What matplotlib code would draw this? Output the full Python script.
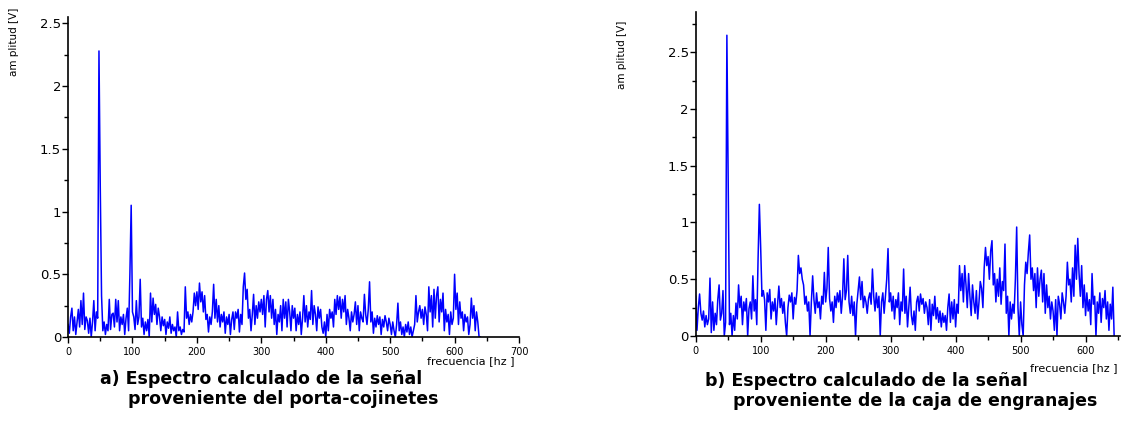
import numpy as np
import matplotlib
matplotlib.use("Agg")
import matplotlib.pyplot as plt
from matplotlib.ticker import MultipleLocator

# amplitude spectra, one value every 2 Hz
step_hz = 2

# a) bearing housing (porta-cojinetes), 0..640 Hz
amp_a = [
    0.10, 0.03, 0.16, 0.23, 0.05,  0.16, 0.02, 0.12, 0.22, 0.08,
    0.29, 0.10, 0.35, 0.06, 0.16,  0.13, 0.03, 0.15, 0.00, 0.12,
    0.29, 0.05, 0.20, 0.15, 2.28,  1.20, 0.33, 0.05, 0.12, 0.02,
    0.10, 0.05, 0.30, 0.06, 0.18,  0.19, 0.08, 0.30, 0.12, 0.29,
    0.05, 0.16, 0.10, 0.18, 0.02,  0.15, 0.23, 0.05, 0.50, 1.05,
    0.20, 0.16, 0.06, 0.29, 0.10,  0.16, 0.46, 0.08, 0.15, 0.02,
    0.12, 0.05, 0.14, 0.00, 0.35,  0.12, 0.31, 0.18, 0.26, 0.10,
    0.23, 0.16, 0.05, 0.16, 0.09,  0.14, 0.02, 0.12, 0.07, 0.16,
    0.03, 0.10, 0.05, 0.08, 0.00,  0.20, 0.05, 0.08, 0.02, 0.06,
    0.04, 0.40, 0.15, 0.20, 0.10,  0.18, 0.12, 0.20, 0.35, 0.25,
    0.36, 0.22, 0.43, 0.28, 0.36,  0.20, 0.33, 0.14, 0.18, 0.04,
    0.16, 0.10, 0.20, 0.42, 0.15,  0.30, 0.12, 0.25, 0.08, 0.18,
    0.12, 0.20, 0.03, 0.16, 0.10,  0.18, 0.02, 0.14, 0.20, 0.06,
    0.20, 0.15, 0.22, 0.04, 0.18,  0.10, 0.40, 0.51, 0.30, 0.38,
    0.15, 0.22, 0.05, 0.18, 0.34,  0.10, 0.25, 0.15, 0.28, 0.20,
    0.30, 0.18, 0.33, 0.08, 0.30,  0.37, 0.20, 0.33, 0.15, 0.30,
    0.10, 0.22, 0.02, 0.18, 0.12,  0.25, 0.05, 0.30, 0.15, 0.28,
    0.08, 0.30, 0.20, 0.05, 0.25,  0.15, 0.23, 0.05, 0.18, 0.10,
    0.20, 0.02, 0.15, 0.33, 0.12,  0.25, 0.08, 0.20, 0.14, 0.37,
    0.10, 0.25, 0.18, 0.05, 0.24,  0.15, 0.22, 0.08, 0.03, 0.12,
    0.00, 0.18, 0.05, 0.22, 0.15,  0.20, 0.08, 0.30, 0.18, 0.33,
    0.22, 0.32, 0.15, 0.30, 0.20,  0.33, 0.10, 0.22, 0.15, 0.05,
    0.20, 0.12, 0.18, 0.28, 0.10,  0.25, 0.05, 0.20, 0.15, 0.12,
    0.34, 0.18, 0.10, 0.22, 0.44,  0.12, 0.20, 0.03, 0.15, 0.08,
    0.17, 0.10, 0.16, 0.02, 0.14,  0.08, 0.17, 0.12, 0.05, 0.15,
    0.10, 0.02, 0.12, 0.05, 0.00,  0.10, 0.27, 0.05, 0.12, 0.02,
    0.08, 0.00, 0.10, 0.04, 0.12,  0.02, 0.08, 0.00, 0.05, 0.10,
    0.33, 0.12, 0.20, 0.25, 0.15,  0.22, 0.10, 0.24, 0.18, 0.05,
    0.40, 0.20, 0.33, 0.08, 0.38,  0.15, 0.33, 0.40, 0.12, 0.30,
    0.20, 0.35, 0.05, 0.22, 0.12,  0.18, 0.02, 0.20, 0.10, 0.15,
    0.50, 0.22, 0.35, 0.10, 0.28,  0.15, 0.20, 0.05, 0.18, 0.12,
    0.16, 0.02, 0.10, 0.31, 0.15,  0.25, 0.05, 0.20, 0.12, 0.00,
    0.00,
]

# b) gearbox (caja de engranajes), 0..644 Hz
amp_b = [
    0.35, 0.05, 0.25, 0.37, 0.20,  0.14, 0.22, 0.08, 0.18, 0.10,
    0.15, 0.51, 0.03, 0.30, 0.05,  0.20, 0.10, 0.32, 0.45, 0.14,
    0.20, 0.40, 0.00, 0.12, 2.65,  1.40, 0.10, 0.20, 0.00, 0.18,
    0.05, 0.29, 0.15, 0.45, 0.25,  0.35, 0.10, 0.30, 0.22, 0.33,
    0.00, 0.24, 0.30, 0.15, 0.53,  0.22, 0.32, 0.10, 0.68, 1.16,
    0.78, 0.35, 0.40, 0.32, 0.05,  0.38, 0.30, 0.41, 0.15, 0.30,
    0.22, 0.33, 0.10, 0.28, 0.44,  0.25, 0.33, 0.20, 0.30, 0.12,
    0.00, 0.25, 0.36, 0.30, 0.38,  0.15, 0.34, 0.28, 0.40, 0.71,
    0.55, 0.60, 0.50, 0.45, 0.28,  0.35, 0.22, 0.30, 0.00, 0.30,
    0.53, 0.32, 0.20, 0.38, 0.25,  0.30, 0.15, 0.35, 0.28, 0.56,
    0.30, 0.42, 0.78, 0.33, 0.22,  0.30, 0.12, 0.35, 0.25, 0.38,
    0.30, 0.40, 0.20, 0.35, 0.68,  0.32, 0.40, 0.71, 0.30, 0.20,
    0.35, 0.18, 0.30, 0.00, 0.28,  0.40, 0.52, 0.32, 0.48, 0.25,
    0.35, 0.30, 0.20, 0.33, 0.38,  0.28, 0.59, 0.35, 0.22, 0.38,
    0.25, 0.35, 0.00, 0.30, 0.38,  0.20, 0.35, 0.50, 0.77, 0.30,
    0.38, 0.22, 0.35, 0.15, 0.32,  0.25, 0.38, 0.10, 0.30, 0.22,
    0.59, 0.20, 0.35, 0.08, 0.25,  0.43, 0.18, 0.10, 0.22, 0.05,
    0.30, 0.35, 0.22, 0.37, 0.28,  0.33, 0.20, 0.30, 0.25, 0.10,
    0.32, 0.05, 0.28, 0.18, 0.35,  0.15, 0.25, 0.12, 0.22, 0.08,
    0.20, 0.12, 0.18, 0.05, 0.25,  0.37, 0.12, 0.30, 0.15, 0.32,
    0.08, 0.28, 0.20, 0.62, 0.40,  0.55, 0.30, 0.62, 0.45, 0.25,
    0.55, 0.35, 0.18, 0.45, 0.30,  0.20, 0.40, 0.15, 0.30, 0.48,
    0.42, 0.25, 0.60, 0.78, 0.62,  0.70, 0.50, 0.75, 0.84, 0.45,
    0.55, 0.30, 0.50, 0.35, 0.60,  0.28, 0.48, 0.40, 0.81, 0.20,
    0.35, 0.00, 0.30, 0.15, 0.28,  0.20, 0.50, 0.96, 0.25, 0.00,
    0.30, 0.10, 0.00, 0.45, 0.65,  0.55, 0.74, 0.89, 0.50, 0.60,
    0.40, 0.55, 0.25, 0.60, 0.35,  0.50, 0.58, 0.30, 0.55, 0.20,
    0.45, 0.25, 0.35, 0.15, 0.30,  0.22, 0.05, 0.32, 0.00, 0.35,
    0.28, 0.15, 0.38, 0.30, 0.20,  0.35, 0.65, 0.45, 0.50, 0.30,
    0.60, 0.35, 0.80, 0.50, 0.86,  0.55, 0.35, 0.62, 0.25, 0.45,
    0.18, 0.38, 0.22, 0.32, 0.10,  0.55, 0.28, 0.35, 0.00, 0.30,
    0.20, 0.38, 0.12, 0.33, 0.25,  0.40, 0.15, 0.30, 0.05, 0.28,
    0.15, 0.43, 0.00,
]

xticks_a = [0, 100, 200, 300, 400, 500, 600, 700]
xticks_b = [0, 100, 200, 300, 400, 500, 600]

caption_a = ["a) Espectro calculado de la señal", "proveniente del porta-cojinetes"]
caption_b = ["b) Espectro calculado de la señal", "proveniente de la caja de engranajes"]

freq_a = np.arange(len(amp_a)) * step_hz
freq_b = np.arange(len(amp_b)) * step_hz

fig = plt.figure(figsize=(11.21, 4.26), dpi=100)
ax1 = fig.add_axes([0.0607, 0.2089, 0.4023, 0.751])
ax2 = fig.add_axes([0.6206, 0.2113, 0.3785, 0.7606])


def style_axis(ax, xmax, ymax, xticks):
    ax.set_xlim(0, xmax)
    ax.set_ylim(0, ymax)
    for s in ["top", "right"]:
        ax.spines[s].set_visible(False)
    for s in ["left", "bottom"]:
        ax.spines[s].set_linewidth(1.2)
    ax.set_xticks(xticks)
    ax.set_xticklabels([str(t) for t in xticks], fontsize=7)
    ax.xaxis.set_minor_locator(MultipleLocator(50))
    ax.yaxis.set_major_locator(MultipleLocator(0.5))
    ax.yaxis.set_minor_locator(MultipleLocator(0.25))
    ax.yaxis.set_major_formatter(plt.FuncFormatter(lambda v, p: f"{v:g}"))
    ax.tick_params(axis="y", labelsize=9.5, length=4, width=1, pad=1)
    ax.tick_params(axis="x", length=4, width=1, pad=3)
    ax.tick_params(which="minor", length=3, width=1)


ax1.plot(freq_a, amp_a, color="#0000ff", lw=1.1)
style_axis(ax1, 700, 2.55, xticks_a)
ax2.plot(freq_b, amp_b, color="#0000ff", lw=1.1)
style_axis(ax2, 653, 2.855, xticks_b)

# axis labels
fig.text(0.0125, 0.901, "am plitud [V]", rotation=90, fontsize=7.5, ha="center", va="center")
fig.text(0.555, 0.871, "am plitud [V]", rotation=90, fontsize=7.5, ha="center", va="center")
fig.text(0.459, 0.152, "frecuencia [hz ]", fontsize=8, ha="right", va="center")
fig.text(0.997, 0.135, "frecuencia [hz ]", fontsize=8, ha="right", va="center")

# captions under each panel, two lines each
cap_kw = dict(fontsize=12.5, ha="left", va="center", fontweight="semibold")
fig.text(100 / 1121, 1 - 379 / 426, caption_a[0], **cap_kw)
fig.text(128 / 1121, 1 - 399 / 426, caption_a[1], **cap_kw)
fig.text(705 / 1121, 1 - 381 / 426, caption_b[0], **cap_kw)
fig.text(733 / 1121, 1 - 401 / 426, caption_b[1], **cap_kw)

fig.savefig("out.png", dpi=100, facecolor="white")
